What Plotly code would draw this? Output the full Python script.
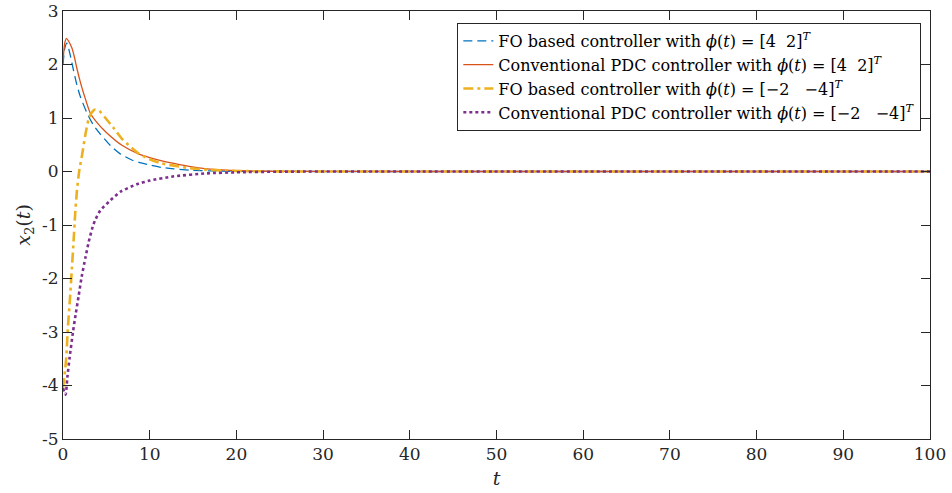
import plotly.graph_objects as go

# Time samples (s) and responses of x2(t) for each controller
t_fo_a = [0, 0.2, 0.45, 0.8, 1.2, 1.6, 2.0, 2.8, 3.5, 4.3, 5.5, 6.6, 8.0, 9.0, 10.1, 11.4, 12.8, 14.7, 17.0, 20.0, 25.0, 40.0, 100.0]
x2_fo_a = [2.0, 2.3, 2.4, 2.2, 1.9, 1.62, 1.4, 1.08, 0.87, 0.7, 0.48, 0.33, 0.21, 0.16, 0.12, 0.075, 0.05, 0.025, 0.01, 0.004, 0.001, 0.0, 0.0]

t_pdc_a = [0, 0.2, 0.4, 0.7, 1.05, 1.3, 1.6, 2.0, 2.4, 3.15, 4.0, 5.0, 6.8, 8.7, 10.0, 11.4, 12.8, 14.7, 16.6, 20.5, 25.0, 40.0, 100.0]
x2_pdc_a = [2.05, 2.4, 2.49, 2.42, 2.3, 2.15, 1.93, 1.67, 1.45, 1.09, 0.9, 0.73, 0.49, 0.33, 0.26, 0.2, 0.15, 0.09, 0.05, 0.015, 0.004, 0.0, 0.0]

t_fo_b = [0, 0.15, 0.38, 0.55, 0.77, 1.03, 1.22, 1.4, 1.61, 1.88, 2.19, 2.57, 2.96, 3.3, 3.7, 4.2, 4.9, 5.9, 6.8, 8.7, 10.0, 11.4, 12.8, 14.7, 16.6, 20.0, 25.0, 40.0, 100.0]
x2_fo_b = [-4.05, -3.85, -3.47, -2.95, -2.45, -1.8, -1.3, -0.8, -0.35, 0.02, 0.3, 0.68, 0.98, 1.1, 1.16, 1.13, 1.0, 0.8, 0.61, 0.34, 0.23, 0.15, 0.11, 0.06, 0.035, 0.01, 0.002, 0.0, 0.0]

t_pdc_b = [0, 0.3, 0.5, 0.77, 1.15, 1.45, 1.8, 2.15, 2.6, 2.96, 3.34, 3.7, 4.3, 5.46, 6.6, 8.5, 10.0, 12.8, 16.6, 20.0, 25.0, 40.0, 100.0]
x2_pdc_b = [-4.05, -4.17, -3.85, -3.47, -3.0, -2.68, -2.33, -1.97, -1.6, -1.32, -1.08, -0.91, -0.73, -0.54, -0.38, -0.24, -0.17, -0.09, -0.035, -0.015, -0.003, 0.0, 0.0]

names = [
    "FO based controller with <i>ϕ</i>(<i>t</i>) = [4  2]<sup><i>T</i></sup>",
    "Conventional PDC controller with <i>ϕ</i>(<i>t</i>) = [4  2]<sup><i>T</i></sup>",
    "FO based controller with <i>ϕ</i>(<i>t</i>) = [−2   −4]<sup><i>T</i></sup>",
    "Conventional PDC controller with <i>ϕ</i>(<i>t</i>) = [−2   −4]<sup><i>T</i></sup>",
]

x_ticks = [0, 10, 20, 30, 40, 50, 60, 70, 80, 90, 100]
y_ticks = [-5, -4, -3, -2, -1, 0, 1, 2, 3]
y_ticktext = ["-5", "-4", "-3", "-2", "-1", "0", "1", "2", "3"]

SERIF = "DejaVu Serif"
INK = "#262626"

fig = go.Figure()
fig.add_trace(go.Scatter(x=t_fo_a, y=x2_fo_a, mode="lines", name=names[0],
                         line=dict(color="#0072BD", width=1.3, dash="9px,5px", shape="spline", smoothing=0.6)))
fig.add_trace(go.Scatter(x=t_pdc_a, y=x2_pdc_a, mode="lines", name=names[1],
                         line=dict(color="#D95319", width=1.3, shape="spline", smoothing=0.6)))
fig.add_trace(go.Scatter(x=t_fo_b, y=x2_fo_b, mode="lines", name=names[2],
                         line=dict(color="#EDB120", width=2.6, dash="10px,4px,3px,4px", shape="spline", smoothing=0.6)))
fig.add_trace(go.Scatter(x=t_pdc_b, y=x2_pdc_b, mode="lines", name=names[3],
                         line=dict(color="#7E2F8E", width=2.6, dash="dot", shape="spline", smoothing=0.6)))

axis_common = dict(
    showline=True, linecolor=INK, linewidth=1, mirror="ticks",
    ticks="inside", ticklen=9, tickcolor=INK, tickwidth=1,
    showgrid=False, zeroline=False, automargin=False,
    tickfont=dict(family=SERIF, size=17, color=INK),
)

fig.update_xaxes(range=[0, 100], tickvals=x_ticks,
                 title=dict(text="<i>t</i>", font=dict(family=SERIF, size=19, color=INK), standoff=8),
                 **axis_common)
fig.update_yaxes(range=[-5, 3], tickvals=y_ticks, ticktext=y_ticktext,
                 title=dict(text="<i>x</i><sub>2</sub>(<i>t</i>)", font=dict(family=SERIF, size=19, color=INK), standoff=6),
                 **axis_common)

fig.update_layout(
    width=952, height=493,
    margin=dict(l=63, r=22, t=11, b=54),
    plot_bgcolor="white", paper_bgcolor="white",
    font=dict(family=SERIF, color="#000000"),
    legend=dict(
        x=0.99, y=0.972, xanchor="right", yanchor="top",
        bgcolor="white", bordercolor=INK, borderwidth=1,
        font=dict(family=SERIF, size=16, color="#000000"),
        tracegroupgap=0, itemwidth=30,
    ),
    showlegend=True,
)

fig.write_html("out.html")
